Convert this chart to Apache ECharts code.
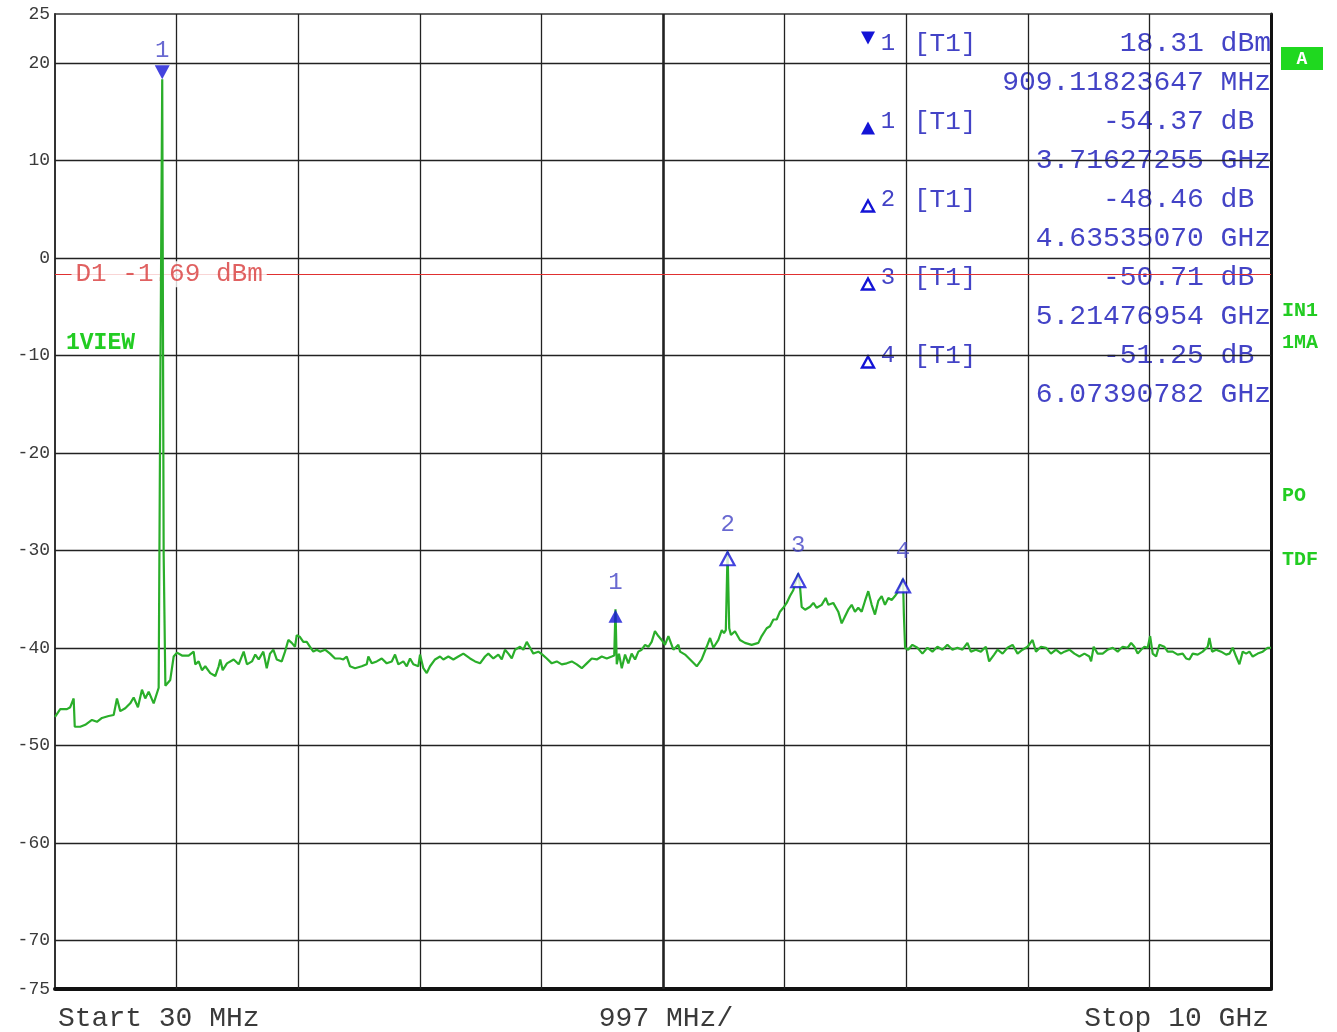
<!DOCTYPE html>
<html>
<head>
<meta charset="utf-8">
<script src="https://cdn.jsdelivr.net/npm/echarts@6/dist/echarts.min.js"></script>
<style>
html,body{margin:0;padding:0;background:#fff;}
#chart{width:1337px;height:1032px;}
</style>
</head>
<body>
<div id="chart"></div>
<script>
// ---- Data (frequency in MHz, level in dBm) ----
const freqMHz = [
30,73,128,155,183,192,237,278,333,374,415,470,511,538,565,606,647,675,710,743,770,798,839,880,
894,909.11823647,921,935,
948,975,1003,1030,1071,1126,1167,1180,1208,1235,1262,1303,1344,1372,1385,1405,1440,1495,1536,1577,1604,1645,1672,1700,
1711,1738,1766,1793,1820,1848,1889,1916,1943,1971,1998,2012,2039,2066,2094,2121,2148,2176,2203,2244,2285,2326,2367,2394,2422,2449,2490,2545,2586,2599,2627,2668,2709,2750,2791,2818,2845,2886,2914,2941,2968,3009,3023,3050,3078,3105,3146,3187,3214,3255,3296,3337,3378,
3433,3474,3515,3556,3583,3624,3665,3693,3720,3747,3775,3802,3843,3870,3898,3925,3952,3993,4026,4062,4103,4144,4185,4226,4267,4308,4349,4390,4431,4472,4513,4554,4595,4615,4625.39,4636,4654,4677,4704,4731,4758,4786,4813,4840,4868,4895,4922,4949,4977,5004,
5031,5059,5100,5141,5155,5196,5237,5292,5332,5373,5401,5428,5469,5497,5515,5530,5544.47,5558,5572,5605,5646,5687,5742,5797,5824,5865,5892,5920,5947,5974,6001,6029,6056,6083,6105,6123.89,6138,6152,6180,6221,6248,6275,6316,6349,6371,6411,6452,6480,6507,6534,6562,6589,6616,6644,6671,6698,6726,6753,6780,6808,6835,6863,6890,6917,6945,6983.03,6990,
7000,7025,7060,7101,7142,7183,7224,7265,7306,7347,7388,7429,7470,7511,7539,7580,7621,7662,7689,7730,7758,7799,7840,7881,7922,7963,8004,8045,8073,8114,8155,8196,8237,8278,
8306,8347,8388,8429,8470,8511,8525,8546,8579,8620,8661,8702,8743,8784,8825,8853,8880,8907,8935,8962,8989,9009,9030,9058,9085,9126,9153,9194,9235,9276,9304,9331,9358,9399,9440,9481,9495,9517,9550,9591,9632,9659,9686,9714,9741,9768,9796,9823,9850,9891,9932,9973,10000
];
const levelDbm = [
-47.1,-46.3,-46.3,-46.1,-45.2,-48.1,-48.1,-47.9,-47.4,-47.6,-47.2,-47.0,-46.9,-45.2,-46.5,-46.2,-45.7,-45.1,-46.1,-44.3,-45.2,-44.5,-45.7,-44.1,
-12.5,18.31,-30.5,-43.9,
-44.1,-43.3,-40.9,-40.5,-40.8,-40.8,-40.4,-41.7,-41.4,-42.3,-41.9,-42.6,-42.9,-41.9,-41.2,-42.3,-41.6,-41.2,-41.7,-40.4,-41.7,-41.4,-40.7,-41.2,
-41.1,-40.4,-42.1,-40.6,-40.2,-41.2,-41.4,-40.4,-39.2,-39.5,-39.9,-38.7,-38.9,-39.4,-39.4,-39.9,-40.4,-40.2,-40.4,-40.2,-40.6,-41.1,-41.1,-41.2,-40.9,-41.9,-42.1,-41.9,-41.7,-40.9,-41.6,-41.4,-41.1,-41.6,-41.4,-40.7,-41.7,-41.4,-41.9,-41.1,-41.7,-41.9,-40.7,-42.1,-42.6,-41.9,-41.2,-40.9,-41.2,-40.9,-41.2,-40.9,-40.6,
-41.1,-41.4,-41.6,-40.9,-40.6,-41.1,-40.7,-41.2,-40.2,-40.6,-41.1,-40.2,-39.9,-40.2,-39.4,-40.0,-40.6,-40.4,-40.7,-41.1,-41.6,-41.4,-41.7,-41.6,-41.4,-41.7,-42.1,-41.6,-41.1,-41.2,-40.9,-41.1,-40.9,-40.8,-36.06,-41.7,-40.6,-42.1,-40.7,-41.6,-40.6,-41.2,-40.4,-40.2,-39.7,-39.9,-39.4,-38.3,-38.8,-39.2,
-39.7,-38.8,-40.2,-39.7,-40.4,-40.7,-41.2,-41.9,-41.2,-39.9,-39.0,-40.0,-39.2,-38.2,-38.5,-38.2,-30.15,-38.0,-38.7,-38.3,-39.2,-39.5,-39.7,-39.5,-38.8,-38.0,-37.8,-37.1,-37.1,-36.3,-35.9,-35.4,-34.7,-34.1,-33.2,-32.40,-33.7,-35.8,-36.1,-35.8,-35.4,-35.9,-35.6,-34.9,-35.6,-35.4,-36.3,-37.5,-36.8,-36.1,-35.6,-36.3,-35.9,-36.3,-35.2,-34.2,-35.6,-36.6,-35.2,-34.7,-35.6,-34.9,-35.1,-34.7,-34.2,-32.94,-36.6,
-40.0,-40.2,-39.7,-40.0,-40.6,-40.0,-40.4,-39.9,-40.2,-39.7,-40.2,-40.0,-40.2,-39.5,-40.4,-40.2,-40.4,-39.9,-41.4,-40.7,-40.2,-40.6,-40.0,-39.7,-40.6,-40.2,-39.9,-39.2,-40.4,-39.9,-40.0,-40.6,-40.2,-40.6,
-40.4,-40.2,-40.6,-40.9,-40.6,-40.9,-41.4,-39.9,-40.6,-40.6,-40.2,-40.0,-40.4,-39.9,-40.0,-39.5,-39.9,-40.6,-40.2,-39.9,-40.0,-38.8,-40.6,-40.9,-39.7,-39.9,-40.4,-40.4,-40.7,-40.6,-41.1,-41.2,-40.6,-40.7,-40.4,-39.9,-39.0,-40.4,-40.2,-40.4,-40.7,-40.6,-40.0,-40.9,-41.7,-40.4,-40.6,-40.4,-40.9,-40.6,-40.4,-40.0,-40.0
];

// Markers
const marker1FreqMHz = 909.11823647;
const marker1LevelDbm = 18.31;
const deltaFreqMHz = [3716.27255, 4635.35070, 5214.76954, 6073.90782];
const deltaLevelDb = [-54.37, -48.46, -50.71, -51.25];
const markerLabels = ['1', '1', '2', '3', '4'];

// Display line
const displayLineDbm = -1.69;
const displayLineText = 'D1 -1.69 dBm';

// Axes
const startMHz = 30, stopMHz = 10000;
const yMin = -75, yMax = 25;
const yLabelValues = [25, 20, 10, 0, -10, -20, -30, -40, -50, -60, -70, -75];
const yGridDbm = [20, 10, 0, -10, -20, -30, -40, -50, -60, -70];
const xGridMHz = [1027, 2024, 3021, 4018, 5015, 6012, 7009, 8006, 9003];
const centerGridMHz = 5015;

// Marker table text
const tableSymbolKinds = ['down', 'upFilled', 'upOpen', 'upOpen', 'upOpen'];
const tableIds = ['1', '1', '2', '3', '4'];
const tableTrace = '[T1]';
const tableLevels = ['18.31 dBm', '-54.37 dB ', '-48.46 dB ', '-50.71 dB ', '-51.25 dB '];
const tableFreqs = ['909.11823647 MHz', '3.71627255 GHz', '4.63535070 GHz', '5.21476954 GHz', '6.07390782 GHz'];

// Side annotations
const sideBoxText = 'A';
const sideTexts = [['IN1', 311], ['1MA', 343], ['PO', 496], ['TDF', 560]];
const leftText = '1VIEW';
const footerLeft = 'Start 30 MHz', footerMid = '997 MHz/', footerRight = 'Stop 10 GHz';

// ---- Build ----
const MONO = '"Liberation Mono", "DejaVu Sans Mono", monospace';
const BLUE_TXT = '#4343c6';
const BLUE_SYM = '#1414d6';
const GREEN_TRACE = '#2aae2a';
const GREEN_TXT = '#22cc22';
const GREY_TXT = '#3a3a3a';

const trace = freqMHz.map((f, i) => [f, levelDbm[i]]);

const markerData = [{
  value: [marker1FreqMHz, marker1LevelDbm],
  symbol: 'path://M0,0 L10,0 L5,9 Z',
  symbolSize: [15, 14],
  symbolOffset: [0, -7],
  itemStyle: { color: BLUE_SYM },
  label: { distance: 3 }
}];
deltaFreqMHz.forEach((df, i) => {
  markerData.push({
    value: [marker1FreqMHz + df, marker1LevelDbm + deltaLevelDb[i]],
    symbol: 'triangle',
    symbolSize: [14, 13],
    symbolOffset: [0, 7],
    itemStyle: i === 0 ? { color: BLUE_SYM } : { color: '#ffffff', borderColor: BLUE_SYM, borderWidth: 2.2 },
    label: { distance: 15 }
  });
});

function txt(text, x, y, align, font, fill, z) {
  return { type: 'text', z: z || 1, style: { text: text, x: x, y: y, align: align, verticalAlign: 'middle',
    textAlign: align, textVerticalAlign: 'middle', font: font, fill: fill } };
}
function tri(kind, cx, cy) {
  const w = 7, h = 6.5;
  const pts = kind === 'down'
    ? [[cx - w, cy - h], [cx + w, cy - h], [cx, cy + h]]
    : [[cx - w + 1, cy + h - 1], [cx + w - 1, cy + h - 1], [cx, cy - h + 1]];
  if (kind === 'upOpen') {
    return { type: 'polygon', z: 1, shape: { points: pts }, style: { fill: '#ffffff', stroke: BLUE_SYM, lineWidth: 2.4 } };
  }
  return { type: 'polygon', z: 1, shape: { points: kind === 'down' ? pts : [[cx - w, cy + h], [cx + w, cy + h], [cx, cy - h]] }, style: { fill: BLUE_SYM } };
}

const graphics = [];
tableLevels.forEach((lv, i) => {
  const yLevel = 44 + 78 * i;
  const yFreq = 83 + 78 * i;
  graphics.push(tri(tableSymbolKinds[i], 868, i === 0 ? 38 : yLevel + 6));
  graphics.push(txt(tableIds[i], 888, yLevel, 'center', '24px ' + MONO, BLUE_TXT));
  graphics.push(txt(tableTrace, 914, yLevel, 'left', '26px ' + MONO, BLUE_TXT));
  graphics.push(txt(lv, 1271, yLevel, 'right', '28px ' + MONO, BLUE_TXT));
  graphics.push(txt(tableFreqs[i], 1271, yFreq, 'right', '28px ' + MONO, BLUE_TXT));
});
graphics.push({ type: 'rect', shape: { x: 1281, y: 47, width: 42, height: 23 }, style: { fill: '#1fd81f' } });
graphics.push(txt(sideBoxText, 1302, 59, 'center', 'bold 18px ' + MONO, '#ffffff'));
sideTexts.forEach(([t, y]) => graphics.push(txt(t, 1282, y, 'left', 'bold 20px ' + MONO, GREEN_TXT)));
graphics.push(txt(leftText, 66, 343, 'left', 'bold 23px ' + MONO, GREEN_TXT));
graphics.push(txt(footerLeft, 58, 1019, 'left', '28px ' + MONO, GREY_TXT));
graphics.push(txt(footerMid, 666, 1019, 'center', '28px ' + MONO, GREY_TXT));
graphics.push(txt(footerRight, 1269, 1019, 'right', '28px ' + MONO, GREY_TXT));

const gridLineData = []
  .concat(yGridDbm.map(v => ({ yAxis: v, lineStyle: { color: '#222', width: 1.3, type: 'solid' } })))
  .concat(xGridMHz.map(v => ({ xAxis: v, lineStyle: { color: '#222', width: v === centerGridMHz ? 2.6 : 1.3, type: 'solid' } })));

const chart = echarts.init(document.getElementById('chart'), null, { renderer: 'canvas' });
chart.setOption({
  animation: false,
  backgroundColor: '#ffffff',
  grid: { left: 55, right: 66, top: 14, bottom: 43, containLabel: false },
  xAxis: [
    { type: 'value', min: startMHz, max: stopMHz, position: 'bottom',
      axisLine: { show: true, onZero: false, lineStyle: { color: '#111', width: 4 } },
      axisTick: { show: false }, axisLabel: { show: false }, splitLine: { show: false } },
    { type: 'value', min: startMHz, max: stopMHz, position: 'top',
      axisLine: { show: true, onZero: false, lineStyle: { color: '#333', width: 1.5 } },
      axisTick: { show: false }, axisLabel: { show: false }, splitLine: { show: false } }
  ],
  yAxis: [
    { type: 'value', min: yMin, max: yMax, interval: 5, position: 'left',
      axisLine: { show: true, onZero: false, lineStyle: { color: '#333', width: 2 } },
      axisTick: { show: false }, splitLine: { show: false },
      axisLabel: { show: true, margin: 5, color: GREY_TXT, fontFamily: '"Liberation Mono", monospace', fontSize: 18,
        formatter: v => (yLabelValues.indexOf(v) >= 0 ? String(v) : '') } },
    { type: 'value', min: yMin, max: yMax, interval: 5, position: 'right',
      axisLine: { show: true, onZero: false, lineStyle: { color: '#111', width: 3 } },
      axisTick: { show: false }, splitLine: { show: false }, axisLabel: { show: false } }
  ],
  graphic: graphics,
  series: [
    { name: 'grid', type: 'line', z: 1, data: [], silent: true, symbol: 'none',
      markLine: { z: 1, silent: true, symbol: 'none', animation: false, label: { show: false }, data: gridLineData } },
    { name: 'display line', type: 'line', z: 2, data: [], silent: true, symbol: 'none',
      markLine: { z: 2, silent: true, symbol: 'none', animation: false, label: { show: false },
        data: [{ yAxis: displayLineDbm, lineStyle: { color: '#e03030', width: 1.2, type: 'solid' } }] } },
    { name: 'display label', type: 'scatter', z: 3, silent: true, symbolSize: 1,
      itemStyle: { color: 'rgba(0,0,0,0)' },
      data: [[startMHz, displayLineDbm]],
      label: { show: true, position: 'right', distance: 16, formatter: displayLineText,
        color: '#d83a3a', fontFamily: '"Liberation Mono", monospace', fontSize: 26,
        backgroundColor: '#ffffff', padding: [0, 4, 0, 4] } },
    { name: 'trace', type: 'line', z: 4, data: trace, showSymbol: false, symbol: 'none',
      lineStyle: { color: GREEN_TRACE, width: 2.2 } },
    { name: 'markers', type: 'scatter', z: 5, data: markerData,
      label: { show: true, position: 'top', formatter: p => markerLabels[p.dataIndex],
        color: BLUE_TXT, fontFamily: '"Liberation Mono", monospace', fontSize: 24 } }
  ]
});
</script>
</body>
</html>
